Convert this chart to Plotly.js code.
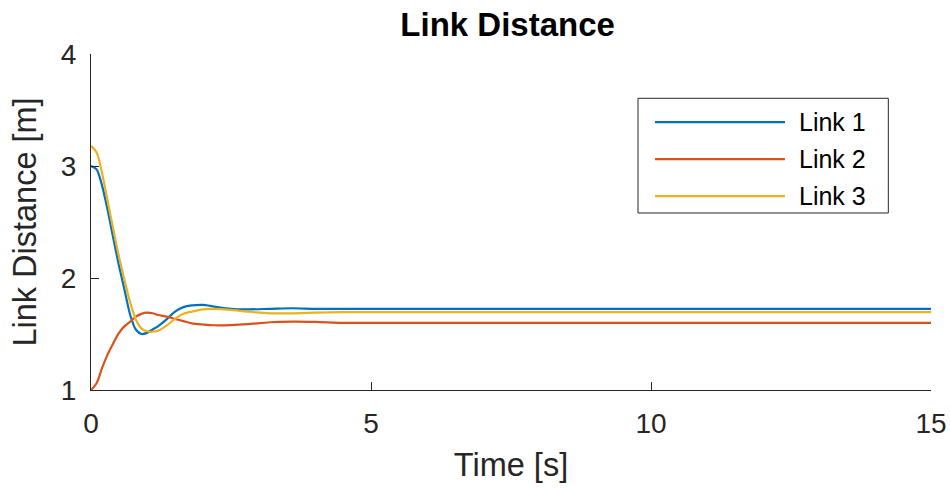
<!DOCTYPE html>
<html>
<head>
<meta charset="utf-8">
<script src="https://cdn.plot.ly/plotly-3.0.1.min.js"></script>
<style>html,body{margin:0;padding:0;background:#fff;}#chart{width:950px;height:489px;}</style>
</head>
<body>
<div id="chart"></div>
<script>
const time = [0, 0.1, 0.2, 0.3, 0.4, 0.5, 0.6, 0.7, 0.8, 0.9, 1.0, 1.1, 1.2, 1.35, 1.5, 1.65, 1.8, 2.0, 2.2, 2.5, 2.8, 3.2, 3.6, 4.0, 4.5, 5, 6, 8, 10, 12, 15];
const link1 = [3.00, 2.97, 2.82, 2.60, 2.35, 2.11, 1.89, 1.67, 1.54, 1.50, 1.51, 1.54, 1.57, 1.63, 1.70, 1.74, 1.755, 1.76, 1.745, 1.725, 1.72, 1.725, 1.73, 1.725, 1.725, 1.725, 1.725, 1.725, 1.725, 1.725, 1.725];
const link2 = [1.00, 1.06, 1.20, 1.32, 1.42, 1.51, 1.57, 1.61, 1.655, 1.68, 1.69, 1.685, 1.67, 1.655, 1.635, 1.615, 1.595, 1.585, 1.578, 1.58, 1.588, 1.605, 1.61, 1.608, 1.60, 1.60, 1.60, 1.60, 1.60, 1.60, 1.60];
const link3 = [3.18, 3.12, 2.93, 2.68, 2.43, 2.19, 1.98, 1.78, 1.63, 1.55, 1.525, 1.52, 1.53, 1.575, 1.635, 1.68, 1.70, 1.72, 1.725, 1.715, 1.70, 1.685, 1.685, 1.69, 1.695, 1.695, 1.695, 1.695, 1.695, 1.695, 1.695];
const names = ['Link 1', 'Link 2', 'Link 3'];
const colors = ['#0072BD', '#D95319', '#EDB120'];
const xTicks = [0, 5, 10, 15];
const yTicks = [1, 2, 3, 4];

const FONT = 'Liberation Sans, Arial, sans-serif';
const series = [link1, link2, link3];
const traces = series.map((s, i) => ({
  x: time, y: s, name: names[i], type: 'scatter', mode: 'lines',
  line: {color: colors[i], width: 2.2, shape: 'spline', smoothing: 0.8},
  showlegend: false
}));

// Legend box drawn in paper coordinates (MATLAB-style legend with long sample lines)
const legBox = {x0: 0.6512, x1: 0.9492, y0: 0.5268, y1: 0.8682};
const legLineX = [0.6714, 0.8262];
const legTextX = 0.8400;
const legRowsY = [0.7970, 0.6869, 0.5768];
const shapes = [{
  type: 'rect', xref: 'paper', yref: 'paper',
  x0: legBox.x0, x1: legBox.x1, y0: legBox.y0, y1: legBox.y1,
  line: {color: '#262626', width: 1}, fillcolor: '#fff', layer: 'above'
}];
const annotations = [];
names.forEach((n, i) => {
  shapes.push({type: 'line', xref: 'paper', yref: 'paper',
    x0: legLineX[0], x1: legLineX[1], y0: legRowsY[i], y1: legRowsY[i],
    line: {color: colors[i], width: 2.2}, layer: 'above'});
  annotations.push({xref: 'paper', yref: 'paper', x: legTextX, y: legRowsY[i],
    xanchor: 'left', yanchor: 'middle', text: n, showarrow: false,
    font: {family: FONT, size: 25, color: '#000'}});
});

const axisCommon = {
  showline: true, linecolor: '#262626', linewidth: 1, mirror: false,
  ticks: 'inside', ticklen: 8, tickwidth: 1, tickcolor: '#262626',
  showgrid: false, zeroline: false,
  tickfont: {family: FONT, size: 28, color: '#262626'}
};

const layout = {
  width: 950, height: 489,
  margin: {l: 91, r: 19, t: 54, b: 99},
  paper_bgcolor: '#fff', plot_bgcolor: '#fff',
  font: {family: FONT, color: '#262626'},
  title: {text: '<b>Link Distance</b>', x: 0.496, xref: 'paper', xanchor: 'center',
          y: 0.949, yref: 'container', yanchor: 'middle',
          font: {family: FONT, size: 33, color: '#000'}},
  xaxis: Object.assign({}, axisCommon, {
    range: [0, 15], tickvals: xTicks, ticktext: xTicks.map(String),
    ticklabelstandoff: 8,
    title: {text: 'Time [s]', font: {size: 32.5, color: '#262626'}, standoff: 15}
  }),
  yaxis: Object.assign({}, axisCommon, {
    range: [1, 4], tickvals: yTicks, ticktext: yTicks.map(String),
    ticklabelstandoff: 8,
    title: {text: 'Link Distance [m]', font: {size: 32.5, color: '#262626'}, standoff: 14}
  }),
  showlegend: false,
  shapes: shapes,
  annotations: annotations
};

Plotly.newPlot('chart', traces, layout, {displayModeBar: false, staticPlot: true});
</script>
</body>
</html>
